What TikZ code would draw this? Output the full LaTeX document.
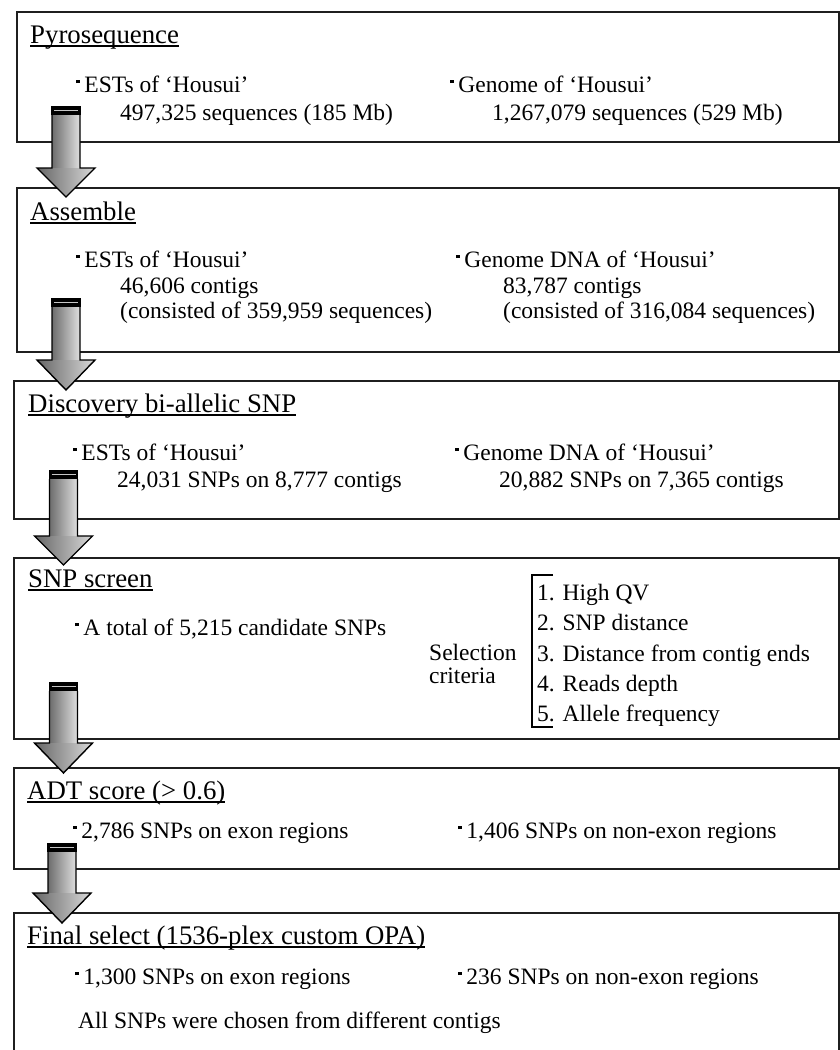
\documentclass[tikz,border=0pt]{standalone}
\usepackage{fontspec}
\setmainfont{Liberation Serif}
\newcommand\sqb{\rule[0.38em]{0.15em}{0.15em}\hspace{0.2em}}
\newcommand\myul[1]{\setbox0=\hbox{#1}\rlap{\rule[-3.5pt]{\wd0}{1.4pt}}\box0}
\newcommand\blockarr[4]{%
  \shade[left color=gray!85!black, right color=gray!25] ({#1-14},{#2+9}) rectangle ({#1+14},{#3});
  \shade[left color=gray!80!black, right color=gray!30] ({#1-29},{#3}) -- ({#1},{#4}) -- ({#1+29},{#3}) -- cycle;
  \draw[arrline] ({#1-14},{#2+9}) -- ({#1-14},{#3}) -- ({#1-29},{#3}) -- ({#1},{#4}) -- ({#1+29},{#3}) -- ({#1+14},{#3}) -- ({#1+14},{#2+9});
  \fill[black] ({#1-14.7},{#2}) rectangle ({#1+14.7},{#2+9});
  \draw[gray!45, line width=0.8pt] ({#1-12},{#2+4.5}) -- ({#1+12},{#2+4.5});
}
\begin{document}
\begin{tikzpicture}[x=1pt,y=-1pt,
  box/.style={draw=black!88, line width=1.7pt, inner sep=0pt, anchor=north west},
  ttl/.style={anchor=base west, inner sep=0pt, font=\fontsize{26.8}{30}\selectfont},
  txt/.style={anchor=base west, inner sep=0pt, font=\fontsize{23.5}{26}\selectfont},
  arrline/.style={draw=black, line width=1.4pt, line join=miter},
  brk/.style={draw=black, line width=2.2pt}]
\useasboundingbox (0,0) rectangle (840,1050);
\fill[white] (0,0) rectangle (840,1050);
% boxes
\node[box, minimum width=822pt, minimum height=130pt] (b1) at (16,11) {};
\node[box, minimum width=822pt, minimum height=164pt] (b2) at (16,187) {};
\node[box, minimum width=825pt, minimum height=138pt] (b3) at (13,380) {};
\node[box, minimum width=825pt, minimum height=181pt] (b4) at (13,557) {};
\node[box, minimum width=825pt, minimum height=101pt] (b5) at (13,767) {};
\node[box, minimum width=825pt, minimum height=160pt] (b6) at (13,912) {};
% box 1
\node[ttl] (t1) at (30,43) {\myul{Pyrosequence}};
\node[txt] (l1a) at (76,92) {\sqb ESTs of ‘Housui’};
\node[txt] (l1b) at (120,120) {497,325 sequences (185 Mb)};
\node[txt] (r1a) at (450,92) {\sqb Genome of ‘Housui’};
\node[txt] (r1b) at (492,120) {1,267,079 sequences (529 Mb)};
% box 2
\node[ttl] (t2) at (30,220) {\myul{Assemble}};
\node[txt] (l2a) at (76,267) {\sqb ESTs of ‘Housui’};
\node[txt] (l2b) at (120,293) {46,606 contigs};
\node[txt] (l2c) at (120,318) {(consisted of 359,959 sequences)};
\node[txt] (r2a) at (456,267) {\sqb Genome DNA of ‘Housui’};
\node[txt] (r2b) at (503,293) {83,787 contigs};
\node[txt] (r2c) at (503,318) {(consisted of 316,084 sequences)};
% box 3
\node[ttl] (t3) at (28,412) {\myul{Discovery bi-allelic SNP}};
\node[txt] (l3a) at (73,460) {\sqb ESTs of ‘Housui’};
\node[txt] (l3b) at (117,487) {24,031 SNPs on 8,777 contigs};
\node[txt] (r3a) at (455,460) {\sqb Genome DNA of ‘Housui’};
\node[txt] (r3b) at (499,487) {20,882 SNPs on 7,365 contigs};
% box 4
\node[ttl] (t4) at (28,587) {\myul{SNP screen}};
\node[txt] (l4a) at (75,635) {\sqb A total of 5,215 candidate SNPs};
\node[txt] (sel1) at (429,660) {Selection};
\node[txt] (sel2) at (429,683) {criteria};
\coordinate (bt) at (532,575);
\coordinate (bb) at (532,727);
\draw[brk] ([xshift=21pt]bt) -- (bt) -- (bb) -- ([xshift=21pt]bb);
\node[txt] (c1) at (537,600) {1. High QV};
\node[txt] (c2) at (537,630) {2. SNP distance};
\node[txt] (c3) at (537,661) {3. Distance from contig ends};
\node[txt] (c4) at (537,691) {4. Reads depth};
\node[txt] (c5) at (537,721) {5. Allele frequency};
% box 5
\node[ttl] (t5) at (27,799) {\myul{ADT score (> 0.6)}};
\node[txt] (l5a) at (73,838) {\sqb 2,786 SNPs on exon regions};
\node[txt] (r5a) at (458,838) {\sqb 1,406 SNPs on non-exon regions};
% box 6
\node[ttl] (t6) at (27,944) {\myul{Final select (1536-plex custom OPA)}};
\node[txt] (l6a) at (75,984) {\sqb 1,300 SNPs on exon regions};
\node[txt] (r6a) at (458,984) {\sqb 236 SNPs on non-exon regions};
\node[txt] (l6b) at (78,1028) {All SNPs were chosen from different contigs};
% arrows
\blockarr{66}{106}{168}{197}
\blockarr{66}{298}{360}{390}
\blockarr{63.5}{470}{536}{565}
\blockarr{63.5}{682}{743}{773}
\blockarr{62}{843}{893}{923}
\end{tikzpicture}
\end{document}
